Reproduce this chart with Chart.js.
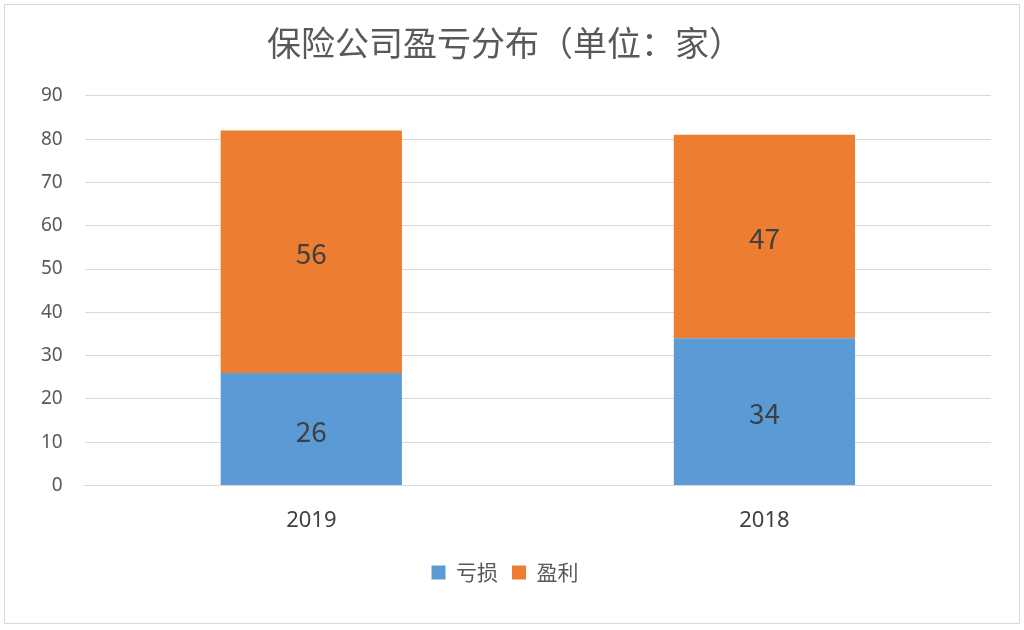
<!DOCTYPE html>
<html><head><meta charset="utf-8">
<script src="https://cdn.jsdelivr.net/npm/chart.js@4/dist/chart.umd.min.js"></script>
<style>html,body{margin:0;padding:0;background:#fff}#wrap{position:absolute;left:4px;top:4px;width:1014px;height:618px;border:1px solid #d9d9d9}</style>
</head><body><div id="wrap"><canvas id="c"></canvas></div>
<script>
const categories = ["2019", "2018"];
const lossValues = [26, 34];
const profitValues = [56, 47];
const seriesNames = ["亏损", "盈利"];
const yTicks = [0, 10, 20, 30, 40, 50, 60, 70, 80, 90];

const labelPlugin = {
  id: 'lbl',
  afterDatasetsDraw(chart) {
    const ctx = chart.ctx;
    ctx.save();
    ctx.font = '28px "Noto Sans CJK SC", sans-serif';
    ctx.fillStyle = '#404040';
    ctx.textAlign = 'center'; ctx.textBaseline = 'middle';
    chart.data.datasets.forEach((ds, i) => {
      chart.getDatasetMeta(i).data.forEach((bar, j) => {
        const p = bar.getProps(['x', 'y', 'base'], true);
        ctx.fillText(String(ds.data[j]), p.x, (p.y + p.base) / 2 + 2);
      });
    });
    ctx.restore();
  }
};

new Chart(document.getElementById('c'), {
  type: 'bar',
  data: {
    labels: categories,
    datasets: [
      { label: seriesNames[0], data: lossValues, backgroundColor: '#5B9BD5', categoryPercentage: 1, barPercentage: 0.4 },
      { label: seriesNames[1], data: profitValues, backgroundColor: '#ED7D31', categoryPercentage: 1, barPercentage: 0.4 }
    ]
  },
  options: {
    responsive: true, maintainAspectRatio: false, animation: false,
    layout: { padding: { left: 14, right: 28, top: 8, bottom: 30 } },
    plugins: {
      title: { display: true, text: '保险公司盈亏分布（单位：家）', color: '#595959',
        font: { size: 34, family: '"Noto Sans CJK SC", sans-serif', weight: 'normal' }, padding: { top: 10, bottom: 32 } },
      legend: { position: 'bottom', labels: { color: '#595959', boxWidth: 14, boxHeight: 14, padding: 14,
        font: { size: 21, family: '"Noto Sans CJK SC", sans-serif' } } },
      tooltip: { enabled: false }
    },
    scales: {
      x: { stacked: true, grid: { display: false }, border: { color: '#d9d9d9' },
        ticks: { color: '#404040', padding: 14, font: { size: 22, family: '"Noto Sans", sans-serif' } } },
      y: { stacked: true, min: 0, max: 90, border: { display: false }, grid: { color: '#d9d9d9', drawTicks: false },
        afterBuildTicks: s => { s.ticks = yTicks.map(v => ({ value: v })); },
        ticks: { color: '#595959', padding: 22, font: { size: 19, family: '"Noto Sans", sans-serif' } } }
    }
  },
  plugins: [labelPlugin]
});
</script></body></html>
